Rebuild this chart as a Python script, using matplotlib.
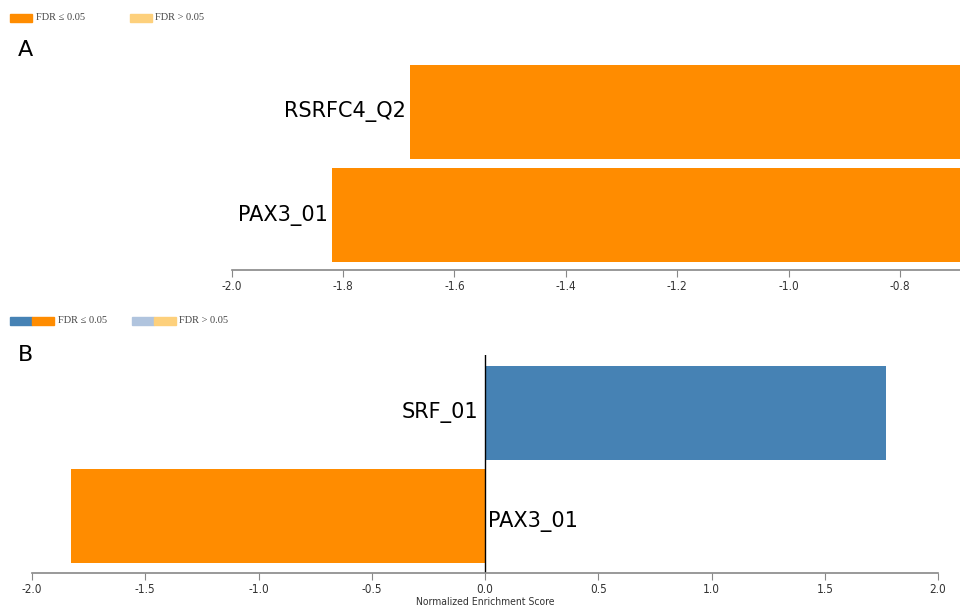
import matplotlib
matplotlib.use('Agg')
import matplotlib.pyplot as plt
from matplotlib.patches import Rectangle

# panel A data
a_terms = ['PAX3_01', 'RSRFC4_Q2']
a_nes = [-1.82, -1.68]
# panel B data
b_terms = ['PAX3_01', 'SRF_01']
b_nes = [-1.83, 1.77]

a_ticks = [-2.0, -1.8, -1.6, -1.4, -1.2, -1.0, -0.8]
b_ticks = [-2.0, -1.5, -1.0, -0.5, 0.0, 0.5, 1.0, 1.5, 2.0]

ORANGE = '#ff8c00'
BLUE = '#4682b4'
LORANGE = '#fdd07c'
LBLUE = '#b0c4de'
AXC = '#888888'

W, H = 960, 607
fig = plt.figure(figsize=(W / 100, H / 100), dpi=100)


def px_axes(x0, y0, x1, y1):
    return fig.add_axes([x0 / W, 1 - y1 / H, (x1 - x0) / W, (y1 - y0) / H])


def style(ax, ticks):
    for s in ['top', 'right', 'left']:
        ax.spines[s].set_visible(False)
    ax.spines['bottom'].set_color(AXC)
    ax.spines['bottom'].set_linewidth(1.2)
    ax.set_yticks([])
    ax.set_xticks(ticks)
    ax.set_xticklabels(['%.1f' % t for t in ticks], fontsize=8.5,
                       fontstretch='condensed', color='#333333')
    ax.tick_params(axis='x', direction='out', length=5, color=AXC, pad=2)


def legend(y, colors_sig, colors_ns):
    x = 10
    for c in colors_sig:
        fig.patches.append(Rectangle((x / W, 1 - (y + 4) / H), 22 / W, 8 / H,
                                     transform=fig.transFigure, color=c))
        x += 22
    fig.text((x + 4) / W, 1 - y / H, 'FDR \u2264 0.05', fontsize=7.5,
             family='Liberation Serif', va='center', color='#444444')
    x = 130 if len(colors_sig) == 1 else 132
    for c in colors_ns:
        fig.patches.append(Rectangle((x / W, 1 - (y + 4) / H), 22 / W, 8 / H,
                                     transform=fig.transFigure, color=c))
        x += 22
    fig.text((x + 3) / W, 1 - y / H, 'FDR > 0.05', fontsize=7.5,
             family='Liberation Serif', va='center', color='#444444')


# ---- panel A
axA = px_axes(231.7, 60, 960, 270)
axA.barh(range(len(a_terms)), [0 - v for v in a_nes], left=a_nes,
         height=0.908, color=ORANGE)
axA.set_xlim(-2.0, -0.692)
axA.set_ylim(-0.531, 1.498)
style(axA, a_ticks)
for i, (t, v) in enumerate(zip(a_terms, a_nes)):
    axA.text(v - 0.008, i, t, ha='right', va='center', fontsize=15)
legend(18, [ORANGE], [LORANGE])
fig.text(18 / W, 1 - 50 / H, 'A', fontsize=16, va='center')

# ---- panel B
axB = px_axes(32, 355, 938, 573)
colors = [ORANGE if v < 0 else BLUE for v in b_nes]
axB.barh(range(len(b_terms)), b_nes, height=0.908, color=colors)
axB.set_xlim(-2.0, 2.0)
axB.set_ylim(-0.546, 1.56)
axB.axvline(0, color='black', lw=1)
style(axB, b_ticks)
for i, (t, v) in enumerate(zip(b_terms, b_nes)):
    if v > 0:
        axB.text(-0.03, i, t, ha='right', va='center', fontsize=15)
    else:
        axB.text(0.015, i - 0.05, t, ha='left', va='center', fontsize=15)
axB.set_xlabel('Normalized Enrichment Score', fontsize=7.5,
               fontstretch='condensed', labelpad=1, color='#333333')
legend(321, [BLUE, ORANGE], [LBLUE, LORANGE])
fig.text(18 / W, 1 - 355 / H, 'B', fontsize=16, va='center')

fig.savefig('out.png', dpi=100)
